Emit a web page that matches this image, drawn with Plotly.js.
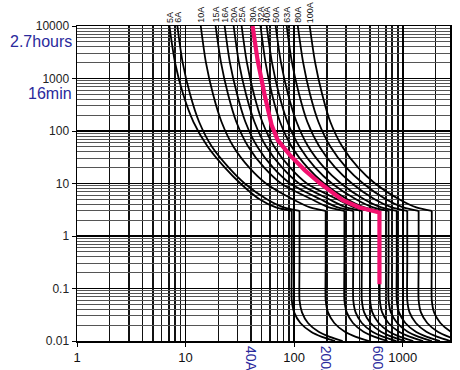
<!DOCTYPE html>
<html><head><meta charset="utf-8">
<script src="https://cdn.plot.ly/plotly-3.0.1.min.js"></script>
<style>html,body{margin:0;padding:0;background:#fff}#chart{width:460px;height:370px}</style>
</head><body><div id="chart"></div>
<script>
// shared time axis for the black fuse curves (seconds)
const timeSeconds = [10000, 2000, 500, 150, 50, 20, 10, 5, 3.5, 3, 0.3, 0.06, 0.035, 0.022, 0.015, 0.012, 0.01];
const fuseLabels = ['5A','6A','10A','15A','16A','20A','25A','32A','40A','50A','63A','80A','100A'];
// prospective current (A) of each black curve at the times above
const fuse5A   = [7.1, 8.0, 9.5, 11.8, 16, 23, 32, 48, 68, 95, 95, 95, 100, 114, 143, 180, 238];
const fuse6A   = [8.4, 9.4, 11, 13.3, 17.5, 25, 35, 56, 80, 112, 112, 112, 118, 134, 168, 213, 280];
const fuse10A  = [13.8, 15.4, 17.9, 21.4, 27.6, 38.6, 55, 97, 140, 195, 195, 195, 205, 234, 293, 370, 488];
const fuse15A  = [18.9, 21.2, 24.6, 29.3, 37.8, 53, 76, 145, 209, 290, 290, 290, 305, 348, 435, 551, 725];
const fuse16A  = [22.9, 25.6, 29.8, 35.5, 45.8, 64, 92, 175, 252, 350, 350, 350, 368, 420, 525, 665, 875];
const fuse20A  = [27.7, 31, 36, 43, 55.4, 77.6, 111, 210, 302, 420, 420, 420, 441, 504, 630, 798, 1050];
const fuse25A  = [32.8, 36.7, 42.6, 50.8, 65.6, 91.8, 131, 250, 360, 500, 500, 500, 525, 600, 750, 950, 1250];
const fuse32A  = [49, 54.5, 62.5, 74, 95, 133, 189, 308, 443, 615, 615, 615, 646, 738, 923, 1170, 1540];
const fuse40A  = [55.8, 62.5, 72.5, 86.5, 112, 156, 223, 370, 533, 740, 740, 740, 777, 888, 1110, 1406, 1850];
const fuse50A  = [67.5, 75.6, 87.8, 105, 135, 189, 270, 440, 634, 880, 880, 880, 924, 1056, 1320, 1672, 2200];
const fuse63A  = [85.3, 95.5, 111, 132, 171, 239, 341, 550, 792, 1100, 1100, 1100, 1155, 1320, 1650, 2090, 2750];
const fuse80A  = [108, 121, 140, 167, 216, 302, 432, 700, 1008, 1400, 1400, 1400, 1470, 1680, 2100, 2660, 3500];
const fuse100A = [139, 156, 181, 215, 278, 389, 556, 925, 1332, 1850, 1850, 1850, 1943, 2220, 2775, 3515, 4625];
const fuseCurves = [fuse5A, fuse6A, fuse10A, fuse15A, fuse16A, fuse20A, fuse25A, fuse32A, fuse40A, fuse50A, fuse63A, fuse80A, fuse100A];

// highlighted 30A curve
const pinkLabel = '30A';
const pinkCurrent = [41.4, 46, 53.5, 62, 70.5, 91, 125, 172, 280, 400, 610, 610];
const pinkTime    = [10000, 2250, 480, 130, 67, 35, 18, 10.2, 4.8, 3.5, 2.8, 0.12];

const yTickVals = [0.01, 0.1, 1, 10, 100, 1000, 10000];
const yTickText = ['0.01', '0.1', '1', '10', '100', '1000', '10000'];
const xTickVals = [1, 10, 100, 1000];
const xTickText = ['1', '10', '100', '1000'];
const timeNotes = ['2.7hours', '16min'];
const timeNoteAt = [5000, 515];
const currentNotes = ['40A', '200A', '600A'];
const currentNoteAt = [40, 200, 600];

const splitIdx = timeSeconds.indexOf(3);
const traces = [];
fuseCurves.forEach(c => {
  traces.push({x: c.slice(0, splitIdx + 1), y: timeSeconds.slice(0, splitIdx + 1), type: 'scatter', mode: 'lines',
    line: {color: '#000', width: 1.8, shape: 'spline', smoothing: 0.8}, hoverinfo: 'skip'});
  traces.push({x: c.slice(splitIdx), y: timeSeconds.slice(splitIdx), type: 'scatter', mode: 'lines',
    line: {color: '#000', width: 1.8, shape: 'spline', smoothing: 0.6}, hoverinfo: 'skip'});
});
traces.push({x: pinkCurrent, y: pinkTime, type: 'scatter', mode: 'lines',
  line: {color: '#f2106e', width: 4.2}, hoverinfo: 'skip'});

// minor grid positions (2..9 in each decade)
const xMinor = [], yMinor = [];
for (let d = 0; d <= 3; d++) for (let k = 2; k <= 9; k++) xMinor.push(k * Math.pow(10, d));
for (let d = -2; d <= 3; d++) for (let k = 2; k <= 9; k++) yMinor.push(k * Math.pow(10, d));

const topFont = {family: 'Liberation Sans, Arial, sans-serif', size: 9, color: '#111'};
const annotations = [];
fuseLabels.forEach((lab, i) => annotations.push({text: lab, x: Math.log10(fuseCurves[i][0]), y: 1, xref: 'x', yref: 'paper',
  xanchor: 'center', yanchor: 'bottom', yshift: 1, textangle: -90, showarrow: false, font: topFont}));
annotations.push({text: pinkLabel, x: Math.log10(pinkCurrent[0]), y: 1, xref: 'x', yref: 'paper',
  xanchor: 'center', yanchor: 'bottom', yshift: 1, textangle: -90, showarrow: false, font: topFont});
timeNotes.forEach((t, i) => annotations.push({text: t, x: 0, xref: 'paper', xanchor: 'right', xshift: -3,
  y: Math.log10(timeNoteAt[i]), yref: 'y', yanchor: 'middle', showarrow: false,
  font: {family: 'Liberation Sans, Arial, sans-serif', size: 16, color: '#2a2a9c'}}));
currentNotes.forEach((t, i) => annotations.push({text: t, x: Math.log10(currentNoteAt[i]), xref: 'x', xanchor: 'center',
  y: 0, yref: 'paper', yanchor: 'top', yshift: -3, textangle: 90, showarrow: false,
  font: {family: 'Liberation Sans, Arial, sans-serif', size: 14, color: '#2a2a9c'}}));

const layout = {
  width: 460, height: 370,
  margin: {l: 77, r: 10, t: 26, b: 29, pad: 0},
  paper_bgcolor: '#fff', plot_bgcolor: '#fff',
  showlegend: false,
  xaxis: {type: 'log', range: [0, 3.435], tickmode: 'array', tickvals: xTickVals, ticktext: xTickText,
    ticks: 'outside', ticklen: 4, tickcolor: '#000', showgrid: true, gridcolor: '#000', gridwidth: 1.6,
    minor: {tickmode: 'array', tickvals: xMinor, showgrid: true, gridcolor: '#111', gridwidth: 1.5, ticks: ''},
    showline: true, mirror: true, linecolor: '#000', linewidth: 1.5, zeroline: false,
    tickfont: {family: 'Liberation Sans, Arial, sans-serif', size: 13, color: '#111'}},
  yaxis: {type: 'log', range: [-2, 4], tickmode: 'array', tickvals: yTickVals, ticktext: yTickText,
    ticks: 'outside', ticklen: 4, tickcolor: '#000', showgrid: true, gridcolor: '#000', gridwidth: 1.6,
    minor: {tickmode: 'array', tickvals: yMinor, showgrid: true, gridcolor: '#555', gridwidth: 1, ticks: ''},
    showline: true, mirror: true, linecolor: '#000', linewidth: 1.5, zeroline: false,
    tickfont: {family: 'Liberation Sans, Arial, sans-serif', size: 12, color: '#222'}},
  annotations: annotations
};
Plotly.newPlot('chart', traces, layout, {staticPlot: true, displayModeBar: false});
</script></body></html>
